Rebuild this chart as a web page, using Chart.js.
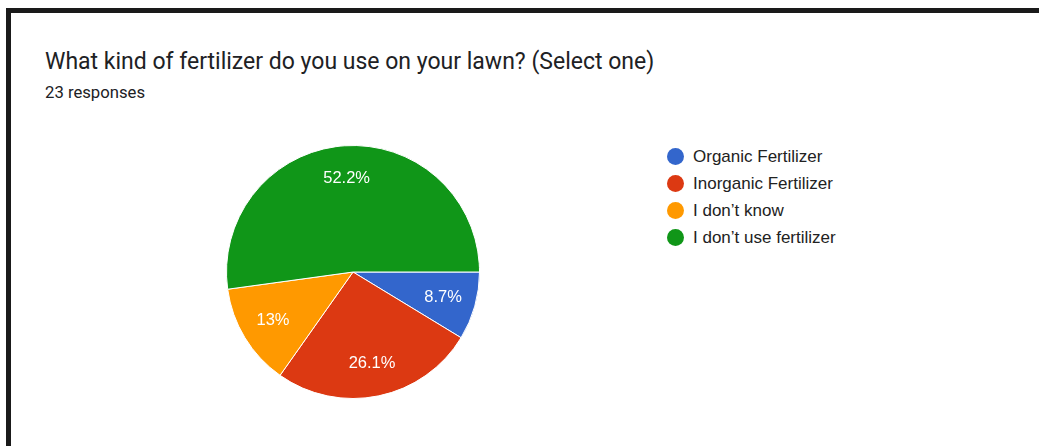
<!DOCTYPE html>
<html>
<head>
<meta charset="utf-8">
<script src="https://cdn.jsdelivr.net/npm/chart.js@4.4.0/dist/chart.umd.min.js"></script>
<style>
    html, body { margin: 0; padding: 0; background: #fff; }
    body { width: 1039px; height: 446px; position: relative; overflow: hidden; }
    #frame {
        position: absolute; left: 6px; top: 8px; width: 1040px; height: 450px;
        border-top: 5px solid #1a1a1a; border-left: 5px solid #1a1a1a;
    }
    #title {
        position: absolute; left: 45px; top: 48px;
        font-family: Roboto, Arial, sans-serif; font-size: 23px; color: #202124;
        white-space: nowrap;
    }
    #subtitle {
        position: absolute; left: 45px; top: 83px;
        font-family: Roboto, Arial, sans-serif; font-size: 16.7px; color: #202124;
    }
    #pieChart { position: absolute; left: 223px; top: 142px; }
    #legend {
        position: absolute; left: 667px; top: 143px;
        font-family: "Liberation Sans", Arial, sans-serif; font-size: 17px; color: #222;
    }
    .item { height: 27px; line-height: 27px; white-space: nowrap; }
    .dot { display: inline-block; width: 17px; height: 17px; border-radius: 50%; vertical-align: -3px; margin-right: 9px; }
</style>
</head>
<body>
<div id="frame"></div>
<div id="title">What kind of fertilizer do you use on your lawn? (Select one)</div>
<div id="subtitle">23 responses</div>
<canvas id="pieChart" width="260" height="260"></canvas>
<div id="legend"></div>

<script>
// answers and response counts
const answers = ['Organic Fertilizer', 'Inorganic Fertilizer', "I don\u2019t know", "I don\u2019t use fertilizer"];
const responses = [2, 6, 3, 12];
const colors = ['#3366cc', '#dc3912', '#ff9900', '#109618'];

const total = responses.reduce((a, b) => a + b, 0);

function pctText(v) {
    let s = (v / total * 100).toFixed(1);
    if (s.endsWith('.0')) s = s.slice(0, -2);
    return s + '%';
}

// percentage labels inside the slices
const sliceLabels = {
    id: 'sliceLabels',
    afterDatasetsDraw(chart) {
        const ctx = chart.ctx;
        const meta = chart.getDatasetMeta(0);
        ctx.save();
        ctx.font = '16.5px "Liberation Sans", Arial, sans-serif';
        ctx.fillStyle = '#fff';
        ctx.textAlign = 'center';
        ctx.textBaseline = 'middle';
        meta.data.forEach((arc, i) => {
            const p = arc.getProps(['x', 'y', 'startAngle', 'endAngle', 'outerRadius']);
            const mid = (p.startAngle + p.endAngle) / 2;
            const r = p.outerRadius * 0.74;
            ctx.fillText(pctText(responses[i]), p.x + Math.cos(mid) * r, p.y + Math.sin(mid) * r);
        });
        ctx.restore();
    }
};

const ctx = document.getElementById('pieChart').getContext('2d');
new Chart(ctx, {
    type: 'pie',
    data: {
        labels: answers,
        datasets: [{
            data: responses,
            backgroundColor: colors,
            borderColor: '#fff',
            borderWidth: 1
        }]
    },
    options: {
        responsive: false,
        animation: false,
        rotation: 90,
        layout: { padding: 3 },
        plugins: {
            legend: { display: false },
            tooltip: { enabled: false }
        }
    },
    plugins: [sliceLabels]
});

// legend
const legend = document.getElementById('legend');
answers.forEach((name, i) => {
    const row = document.createElement('div');
    row.className = 'item';
    row.innerHTML = `<span class="dot" style="background:${colors[i]}"></span>${name}`;
    legend.appendChild(row);
});
</script>
</body>
</html>
